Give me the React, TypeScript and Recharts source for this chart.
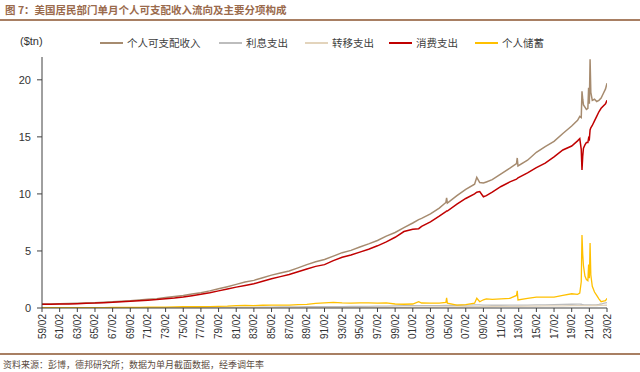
import { LineChart, Line, XAxis, YAxis } from "recharts";

const dates = [
  "1959-02", "1960-02", "1961-02", "1962-02", "1963-02", "1964-02", "1965-02", "1966-02", "1967-02", "1968-02",
  "1969-02", "1970-02", "1971-02", "1972-02", "1973-02", "1974-02", "1975-02", "1976-02", "1977-02", "1978-02",
  "1979-02", "1980-02", "1981-02", "1982-02", "1983-02", "1984-02", "1985-02", "1986-02", "1987-02", "1988-02",
  "1989-02", "1990-02", "1991-02", "1992-02", "1993-02", "1994-02", "1995-02", "1996-02", "1997-02", "1998-02",
  "1999-02", "2000-02",
  "2001-02", "2001-10", "2002-02", "2003-02", "2004-02", "2004-11", "2004-12", "2005-01", "2006-02", "2007-02",
  "2008-02", "2008-05", "2008-09", "2009-02", "2009-06", "2010-02", "2011-02", "2012-02", "2012-11", "2012-12",
  "2013-01", "2014-02", "2015-02", "2016-02", "2017-02", "2018-02", "2019-02", "2019-10",
  "2020-01", "2020-03", "2020-04", "2020-05", "2020-06", "2020-08", "2020-10", "2020-12",
  "2021-01", "2021-02", "2021-03", "2021-04", "2021-06", "2021-09", "2021-12",
  "2022-03", "2022-06", "2022-09", "2022-12",
  "2023-02",
];

// 个人可支配收入
const income = [
  0.35, 0.36, 0.37, 0.39, 0.41, 0.44, 0.47, 0.51, 0.55, 0.6,
  0.64, 0.7, 0.76, 0.82, 0.92, 1.01, 1.1, 1.22, 1.34, 1.5,
  1.68, 1.87, 2.07, 2.28, 2.42, 2.65, 2.88, 3.07, 3.25, 3.52,
  3.8, 4.05, 4.25, 4.55, 4.85, 5.05, 5.35, 5.62, 5.92, 6.3,
  6.62, 7.05,
  7.45, 7.75, 7.85, 8.25, 8.75, 9.25, 9.65, 9.2, 9.85, 10.4,
  10.85, 11.45, 11.0, 10.95, 11.05, 11.25, 11.75, 12.25, 12.65, 13.15,
  12.45, 12.95, 13.65, 14.15, 14.6, 15.3, 15.95, 16.45,
  16.8, 16.7, 19.0, 18.3, 17.8, 17.6, 17.4, 17.5,
  19.3, 17.9, 21.8, 18.9, 18.2, 18.3, 18.1,
  18.2, 18.4, 18.8, 19.2,
  19.7,
];

// 利息支出
const interest = [
  0.01, 0.01, 0.01, 0.01, 0.01, 0.01, 0.01, 0.01, 0.01, 0.01,
  0.02, 0.02, 0.02, 0.02, 0.02, 0.02, 0.03, 0.03, 0.03, 0.04,
  0.04, 0.05, 0.05, 0.06, 0.06, 0.07, 0.08, 0.09, 0.09, 0.1,
  0.11, 0.12, 0.12, 0.12, 0.12, 0.13, 0.14, 0.15, 0.16, 0.17,
  0.18, 0.2,
  0.21, 0.21, 0.2, 0.2, 0.21, 0.22, 0.22, 0.22, 0.24, 0.26,
  0.28, 0.28, 0.27, 0.26, 0.25, 0.24, 0.24, 0.25, 0.25, 0.25,
  0.25, 0.26, 0.27, 0.28, 0.29, 0.31, 0.33, 0.34,
  0.34, 0.33, 0.31, 0.3, 0.29, 0.28, 0.28, 0.28,
  0.27, 0.27, 0.27, 0.27, 0.27, 0.28, 0.29,
  0.31, 0.35, 0.4, 0.45,
  0.48,
];

// 转移支出
const transfer = [
  0.0, 0.0, 0.0, 0.0, 0.0, 0.01, 0.01, 0.01, 0.01, 0.01,
  0.01, 0.01, 0.01, 0.01, 0.01, 0.01, 0.01, 0.01, 0.01, 0.01,
  0.01, 0.01, 0.01, 0.02, 0.02, 0.02, 0.02, 0.02, 0.02, 0.03,
  0.03, 0.03, 0.03, 0.03, 0.04, 0.04, 0.04, 0.05, 0.05, 0.05,
  0.06, 0.06,
  0.07, 0.07, 0.07, 0.08, 0.09, 0.09, 0.09, 0.09, 0.1, 0.11,
  0.12, 0.12, 0.12, 0.13, 0.13, 0.13, 0.14, 0.14, 0.15, 0.15,
  0.15, 0.16, 0.17, 0.18, 0.18, 0.19, 0.2, 0.2,
  0.2, 0.2, 0.2, 0.2, 0.2, 0.21, 0.21, 0.21,
  0.21, 0.21, 0.21, 0.21, 0.22, 0.22, 0.22,
  0.23, 0.23, 0.23, 0.24,
  0.24,
];

// 消费支出
const consumption = [
  0.32, 0.33, 0.34, 0.36, 0.38, 0.41, 0.43, 0.47, 0.5, 0.55,
  0.59, 0.63, 0.68, 0.74, 0.82, 0.88, 0.97, 1.08, 1.2, 1.34,
  1.5, 1.66, 1.83, 1.98, 2.13, 2.35, 2.57, 2.75, 2.93, 3.17,
  3.42, 3.65, 3.8, 4.15, 4.45, 4.65, 4.9, 5.15, 5.45, 5.8,
  6.2, 6.7,
  6.9, 6.95, 7.15, 7.55, 8.05, 8.45, 8.5, 8.5, 9.1, 9.6,
  10.0, 10.15, 10.2, 9.75, 9.85, 10.15, 10.65, 11.05, 11.3, 11.35,
  11.4, 11.85, 12.3, 12.7, 13.25, 13.85, 14.2, 14.65,
  14.85, 13.9, 12.1, 13.3, 14.0, 14.3, 14.5, 14.5,
  14.9, 14.8, 15.6, 15.8, 16.0, 16.4, 16.8,
  17.2, 17.5, 17.7, 17.9,
  18.2,
];

// 个人储蓄
const saving = [
  0.03, 0.03, 0.03, 0.03, 0.03, 0.04, 0.04, 0.04, 0.05, 0.05,
  0.05, 0.06, 0.07, 0.07, 0.08, 0.1, 0.11, 0.11, 0.11, 0.12,
  0.15, 0.16, 0.2, 0.23, 0.21, 0.24, 0.26, 0.26, 0.25, 0.29,
  0.31, 0.4, 0.45, 0.5, 0.45, 0.42, 0.45, 0.45, 0.42, 0.45,
  0.35, 0.33,
  0.35, 0.55, 0.44, 0.42, 0.43, 0.5, 0.88, 0.42, 0.25, 0.3,
  0.42, 0.85, 0.55, 0.72, 0.8, 0.75, 0.8, 0.85, 1.1, 1.5,
  0.7, 0.85, 0.95, 0.95, 0.95, 1.1, 1.25, 1.2,
  1.3, 2.3, 6.4, 4.7, 3.7, 2.8, 2.5, 2.4,
  3.8, 2.6, 5.7, 2.9, 1.9, 1.4, 1.1,
  0.8, 0.55, 0.6, 0.65,
  0.85,
];

const tickDates = [
  "1959-02", "1961-02", "1963-02", "1965-02", "1967-02", "1969-02", "1971-02", "1973-02", "1975-02",
  "1977-02", "1979-02", "1981-02", "1983-02", "1985-02", "1987-02", "1989-02", "1991-02", "1993-02",
  "1995-02", "1997-02", "1999-02", "2001-02", "2003-02", "2005-02", "2007-02", "2009-02", "2011-02",
  "2013-02", "2015-02", "2017-02", "2019-02", "2021-02", "2023-02",
];

const series = [
  { key: "income", name: "个人可支配收入", color: "#a68b6f", width: 1.5 },
  { key: "interest", name: "利息支出", color: "#bdbdbd", width: 1.3 },
  { key: "transfer", name: "转移支出", color: "#e3d4bc", width: 1.3 },
  { key: "consumption", name: "消费支出", color: "#c00000", width: 1.5 },
  { key: "saving", name: "个人储蓄", color: "#ffc000", width: 1.3 },
];

const toYear = (s: string) => Number(s.slice(0, 4)) + (Number(s.slice(5, 7)) - 1) / 12;
const toLabel = (s: string) => s.slice(2, 4) + "/" + s.slice(5, 7);

const data = dates.map((d, i) => ({
  t: toYear(d),
  income: income[i],
  interest: interest[i],
  transfer: transfer[i],
  consumption: consumption[i],
  saving: saving[i],
}));

const tickValues = tickDates.map(toYear);
const labelByTick: Record<string, string> = {};
tickDates.forEach((d) => (labelByTick[toYear(d).toFixed(3)] = toLabel(d)));

const XTick = ({ x, y, payload }: any) => (
  <text
    x={x}
    y={y}
    transform={`rotate(-90 ${x} ${y})`}
    textAnchor="end"
    dy="0.35em"
    fontSize={10}
    fill="#333"
    fontFamily="Liberation Sans, Arial, sans-serif"
  >
    {labelByTick[Number(payload.value).toFixed(3)]}
  </text>
);

const cjk = "'Noto Sans CJK SC', 'Noto Sans', sans-serif";

export default function App() {
  return (
    <div style={{ position: "relative", width: 640, height: 372, background: "#fff", overflow: "hidden" }}>
      <style>{"body{margin:0}"}</style>
      <div
        style={{
          position: "absolute",
          left: 5,
          top: 2,
          fontFamily: cjk,
          fontSize: 10.5,
          fontWeight: 700,
          color: "#9a6a4c",
          whiteSpace: "nowrap",
        }}
      >
        图 7：美国居民部门单月个人可支配收入流向及主要分项构成
      </div>
      <div style={{ position: "absolute", left: 0, top: 19, width: 640, height: 1.5, background: "#a87f63" }} />
      <div
        style={{
          position: "absolute",
          left: 20,
          top: 35,
          fontFamily: "Liberation Sans, Arial, sans-serif",
          fontSize: 11,
          color: "#333",
        }}
      >
        ($tn)
      </div>
      {series.map((s, i) => {
        const lefts = [100, 219, 305, 389, 475];
        return (
          <div
            key={s.key}
            style={{ position: "absolute", left: lefts[i], top: 36, display: "flex", alignItems: "center", whiteSpace: "nowrap" }}
          >
            <div style={{ width: 23, height: 2, background: s.color }} />
            <span style={{ marginLeft: 4, fontFamily: cjk, fontSize: 10.5, color: "#404040", lineHeight: "14px" }}>
              {s.name}
            </span>
          </div>
        );
      })}
      <div style={{ position: "absolute", left: 0, top: 0 }}>
        <LineChart width={640} height={372} data={data} margin={{ top: 57, right: 33, bottom: 30, left: 0 }}>
          <XAxis
            dataKey="t"
            type="number"
            domain={[tickValues[0], tickValues[tickValues.length - 1]]}
            ticks={tickValues}
            interval={0}
            height={34}
            tick={<XTick />}
            tickSize={4}
            tickMargin={2}
            axisLine={{ stroke: "#404040" }}
            tickLine={{ stroke: "#404040" }}
            allowDataOverflow
          />
          <YAxis
            domain={[0, 22]}
            ticks={[0, 5, 10, 15, 20]}
            width={42}
            tickSize={5}
            tickMargin={6}
            tick={{ fontSize: 11, fill: "#333", fontFamily: "Liberation Sans, Arial, sans-serif" }}
            axisLine={{ stroke: "#404040" }}
            tickLine={{ stroke: "#404040" }}
            allowDataOverflow
          />
          {series.map((s) => (
            <Line
              key={s.key}
              type="linear"
              dataKey={s.key}
              stroke={s.color}
              strokeWidth={s.width}
              dot={false}
              isAnimationActive={false}
            />
          ))}
        </LineChart>
      </div>
      <div style={{ position: "absolute", left: 0, top: 353, width: 640, height: 1.5, background: "#a87f63" }} />
      <div
        style={{
          position: "absolute",
          left: 3,
          top: 358,
          fontFamily: cjk,
          fontSize: 9,
          color: "#5a4a40",
          whiteSpace: "nowrap",
        }}
      >
        资料来源：彭博，德邦研究所；数据为单月截面数据，经季调年率
      </div>
    </div>
  );
}
